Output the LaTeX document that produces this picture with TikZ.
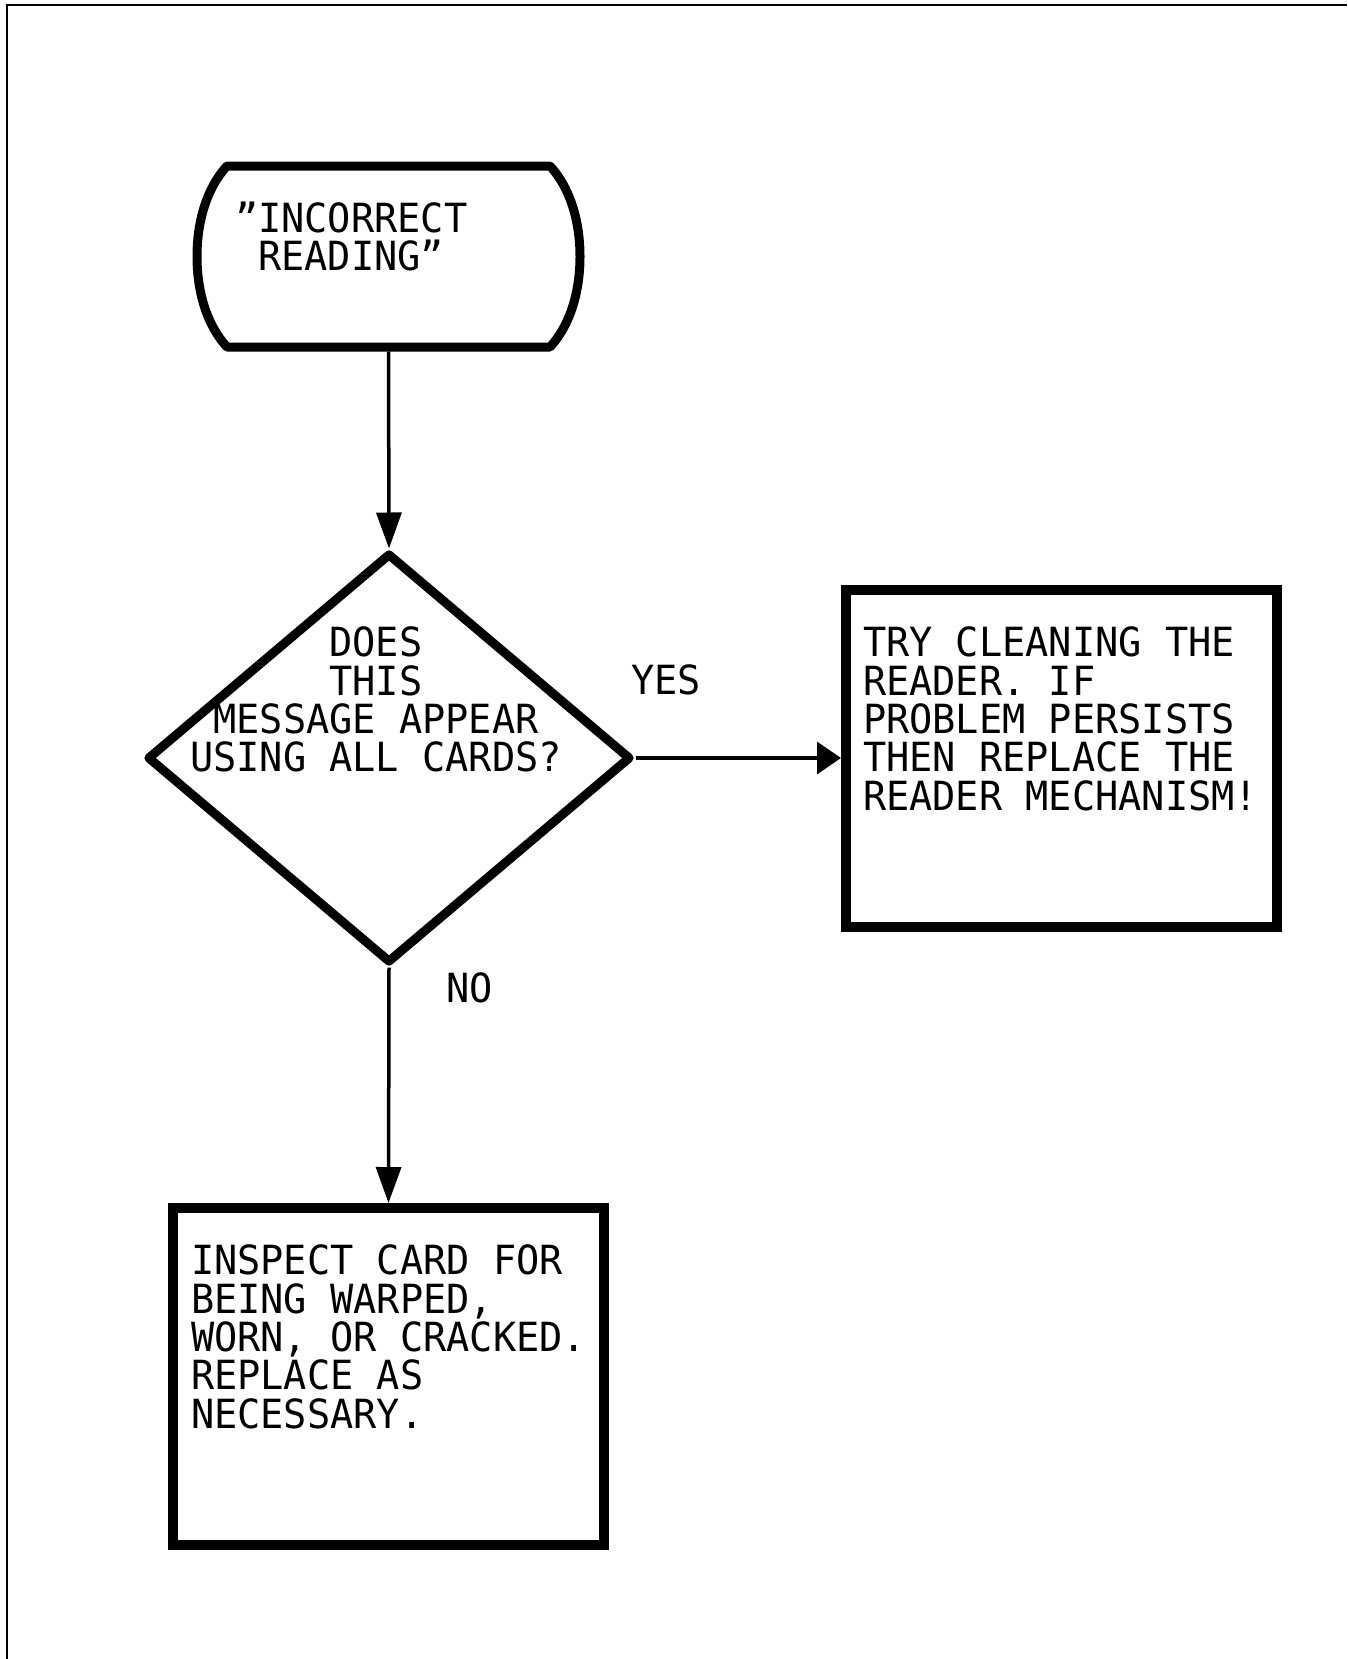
\documentclass[tikz,border=0pt]{standalone}
\usepackage{fontspec}
\usetikzlibrary{shapes.geometric,arrows.meta}
\newfontfamily\plotfont{DejaVu Sans Mono}[FakeStretch=0.96]

\tikzset{
  plottext/.style={font=\plotfont\fontsize{40.2}{38.3}\selectfont,
                   inner sep=0pt, outer sep=0pt},
  frameline/.style={line width=2pt},
  flowline/.style={line width=3.5pt},
  vtip/.style={-{Triangle[length=36pt,width=25pt]}},
  htip/.style={-{Triangle[length=24pt,width=32pt]}},
  actionbox/.style={draw, line width=10pt, minimum width=431pt,
                    minimum height=337pt, inner sep=0pt},
  decision/.style={draw, diamond, line width=9pt, line join=round,
                   minimum width=484pt, minimum height=410pt, inner sep=0pt}
}

\begin{document}
\begin{tikzpicture}[x=1pt,y=-1pt]
  \useasboundingbox (0,0) rectangle (1347,1659);
  \fill[white] (0,0) rectangle (1347,1659);

  % sheet border (top and left edges)
  \draw[frameline] (7,1659) -- (7,5) -- (1347,5);

  % start terminal
  \draw[line width=9pt, line join=round]
    (227,166) -- (550,166)
    .. controls (572,190) and (580,225) .. (580,256.5)
    .. controls (580,288) and (572,323) .. (550,347)
    -- (227,347)
    .. controls (205,323) and (197,288) .. (197,256.5)
    .. controls (197,225) and (205,190) .. (227,166) -- cycle;
  \node[minimum width=383pt, minimum height=181pt, inner sep=0pt,
        outer sep=4.5pt] (start) at (388.5,256.5) {};
  \node[plottext, anchor=north west, align=left] (starttext) at (235,202)
    {”INCORRECT\\\hphantom{”}READING”};

  % decision
  \node[decision] (ask) at (389,758) {};
  \node[plottext, anchor=north, align=center] (asktext) at (376,627)
    {DOES\\THIS\\MESSAGE APPEAR\\USING ALL CARDS?};

  % outcome boxes
  \node[actionbox] (clean) at (1061.5,758.5) {};
  \node[plottext, anchor=north west, align=left] (cleantext) at (863,627)
    {TRY CLEANING THE\\READER. IF\\PROBLEM PERSISTS\\THEN REPLACE THE\\READER MECHANISM!};

  \node[actionbox] (inspect) at (388.5,1376.5) {};
  \node[plottext, anchor=north west, align=left] (inspecttext) at (191,1245)
    {INSPECT CARD FOR\\BEING WARPED,\\WORN, OR CRACKED.\\REPLACE AS\\NECESSARY.};

  % connectors
  \draw[flowline, vtip] (start.south) -- (ask.north);
  \draw[flowline, htip] (ask.east) -- (ask.east -| clean.west);
  \draw[flowline, vtip] (ask.south) -- (inspect.north);

  % branch labels
  \node[plottext, anchor=north west] (yes) at (631,665) {YES};
  \node[plottext, anchor=north west] (no) at (446,973) {NO};
\end{tikzpicture}
\end{document}
